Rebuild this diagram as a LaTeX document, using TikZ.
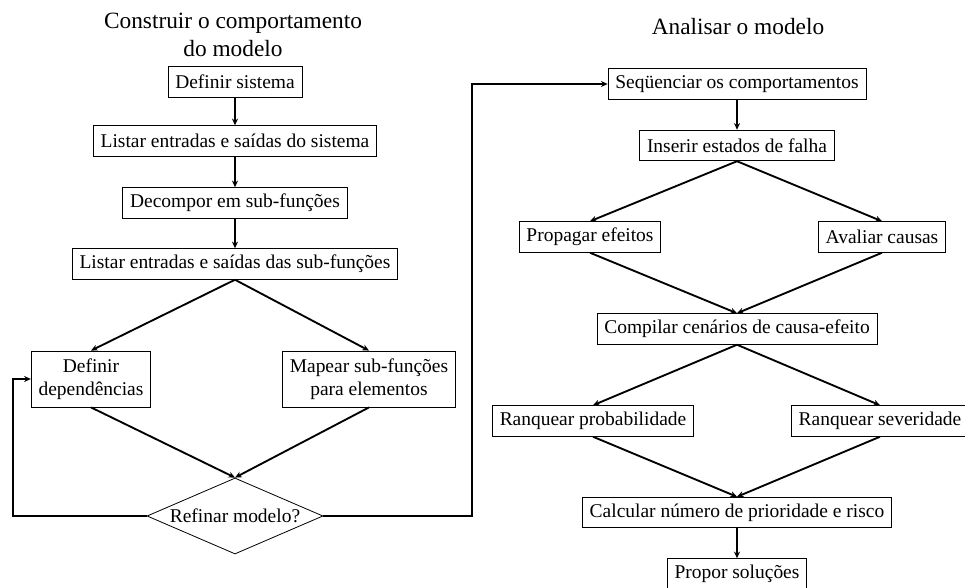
\documentclass[tikz,border=0pt]{standalone}
\usepackage{fontspec}
\setmainfont{Liberation Serif}
\usetikzlibrary{shapes.geometric,arrows.meta}
\begin{document}
\begin{tikzpicture}[x=0.75pt,y=-0.75pt,
  box/.style={draw,line width=0.6pt,inner xsep=5.5pt,inner ysep=0pt,minimum height=23pt,font=\fontsize{14.6}{17}\selectfont,align=center},
  tbox/.style={box,minimum height=42pt,font=\fontsize{14.6}{17}\selectfont},
  dia/.style={draw,line width=0.6pt,shape=diamond,aspect=2.32,minimum width=132pt,minimum height=57pt,inner sep=0pt,font=\fontsize{14.6}{17}\selectfont},
  ttl/.style={align=center,font=\fontsize{17.5}{21}\selectfont},
  arr/.style={line width=1.4pt,-{Stealth[length=5pt,width=4.5pt]}}]
\useasboundingbox (0,0) rectangle (965,588);
% titles
\node[ttl] (t1) at (233,35) {Construir o comportamento\\do modelo};
\node[ttl] (t2) at (738,27) {Analisar o modelo};
% left column
\node[box] (ds) at (235,82) {Definir sistema};
\node[box] (les) at (235,141) {Listar entradas e saídas do sistema};
\node[box] (dec) at (235,203) {Decompor em sub-funções};
\node[box] (lsf) at (235,264) {Listar entradas e saídas das sub-funções};
\node[tbox] (dep) at (91,379) {Definir\\dependências};
\node[tbox] (map) at (369,379) {Mapear sub-funções\\para elementos};
\node[dia] (ref) at (235,516) {Refinar modelo?};
% right column
\node[box] (seq) at (737,84) {Seqüenciar os comportamentos};
\node[box] (ins) at (737,145.5) {Inserir estados de falha};
\node[box] (pro) at (590,237) {Propagar efeitos};
\node[box] (ava) at (882,237) {Avaliar causas};
\node[box] (com) at (737,329) {Compilar cenários de causa-efeito};
\node[box] (rp) at (593,421) {Ranquear probabilidade};
\node[box] (rs) at (880,421) {Ranquear severidade};
\node[box] (cal) at (737,512.5) {Calcular número de prioridade e risco};
\node[box] (ps) at (737,574) {Propor soluções};
\coordinate (lx) at (13,0);
\coordinate (rx) at (472,0);
% connectors left
\draw[arr] (ds) -- (les);
\draw[arr] (les) -- (dec);
\draw[arr] (dec) -- (lsf);
\draw[arr] (lsf.south) -- (dep.north);
\draw[arr] (lsf.south) -- (map.north);
\draw[arr] (dep.south) -- (ref.north);
\draw[arr] (map.south) -- (ref.north);
\draw[arr] (ref.west) -- (ref.west -| lx) |- (dep.west);
\draw[arr] (ref.east) -- (ref.east -| rx) |- (seq.west);
% connectors right
\draw[arr] (seq) -- (ins);
\draw[arr] (ins.south) -- (pro.north);
\draw[arr] (ins.south) -- (ava.north);
\draw[arr] (pro.south) -- (com.north);
\draw[arr] (ava.south) -- (com.north);
\draw[arr] (com.south) -- (rp.north);
\draw[arr] (com.south) -- (rs.north);
\draw[arr] (rp.south) -- (cal.north);
\draw[arr] (rs.south) -- (cal.north);
\draw[arr] (cal) -- (ps);
\end{tikzpicture}
\end{document}
